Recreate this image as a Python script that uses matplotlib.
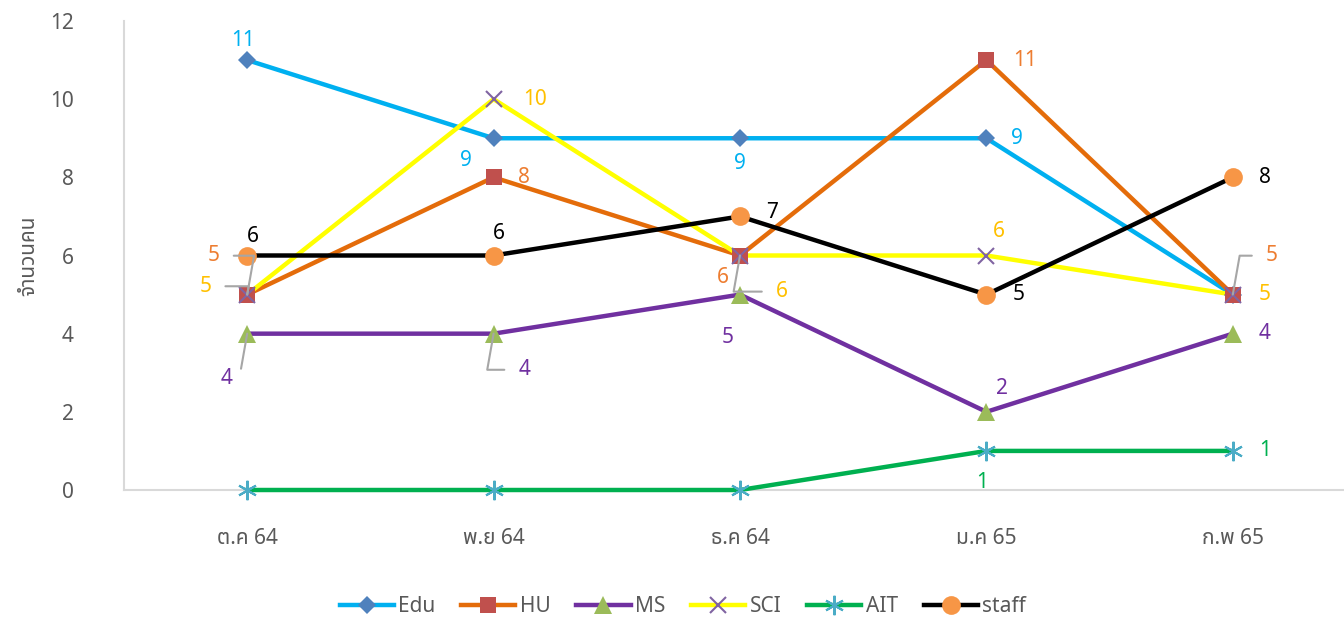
import matplotlib
matplotlib.use("Agg")
import matplotlib.pyplot as plt
from matplotlib.lines import Line2D

months = ['ต.ค 64', 'พ.ย 64', 'ธ.ค 64', 'ม.ค 65', 'ก.พ 65']
edu = [11, 9, 9, 9, 5]
hu = [5, 8, 6, 11, 5]
ms = [4, 4, 5, 2, 4]
sci = [5, 10, 6, 6, 5]
ait = [0, 0, 0, 1, 1]
staff = [6, 6, 7, 5, 8]

thai = ['Noto Sans Thai', 'Noto Sans Thai UI', 'Loma', 'Garuda', 'Norasi', 'Tlwg Typo',
        'Kinnari', 'Sawasdee', 'Waree', 'FreeSans', 'Noto Sans', 'DejaVu Sans']
plt.rcParams['font.family'] = thai

# name, values, line colour, marker, marker colour, marker size, label colour
series = [
    ('Edu', edu, '#00B0F0', 'D', '#4F81BD', 9.5, '#00B0F0'),
    ('HU', hu, '#E46C0A', 's', '#C0504D', 12, '#ED7D31'),
    ('MS', ms, '#7030A0', '^', '#9BBB59', 13, '#7030A0'),
    ('SCI', sci, '#FFFF00', 'x', '#8064A2', 11, '#FFC000'),
    ('AIT', ait, '#00B050', (6, 2, 0), '#4BACC6', 14, '#00B050'),
    ('staff', staff, '#000000', 'o', '#F79646', 13.5, '#000000'),
]

# label offsets in points (None = no label)
offsets = {
    'Edu': [(-3, 14), (-20, -16), (0, -18), (22, 0), None],
    'HU': [(-24, 28), (22, 0), (-12, -16), (28, 0), (28, 28)],
    'MS': [(-15, -32), (22, -26), (-9, -31), (11, 17), (23, 0)],
    'SCI': [(-30, 6), (30, 0), (30, -26), (9, 17), (23, 0)],
    'AIT': [None, None, None, (-3, -23), (23, 0)],
    'staff': [(4, 14), (4, 16), (23, 3), (23, 0), (23, 0)],
}
leaders = {('HU', 0), ('HU', 4), ('MS', 0), ('MS', 1), ('SCI', 0), ('SCI', 2)}

fig = plt.figure(figsize=(13.44, 6.25), dpi=100)
ax = fig.add_axes([124 / 1344, 135 / 625, 1232 / 1344, 469 / 625])
x = list(range(len(months)))

for name, vals, lc, mk, mc, ms_, tc in series:
    ax.plot(x, vals, color=lc, lw=3.2, zorder=2, clip_on=False)
    mew = 1.5 if mk in ('x', (6, 2, 0)) else 0
    ax.plot(x, vals, ls='none', marker=mk, ms=ms_, color=mc, mec=mc, mew=mew,
            zorder=3, clip_on=False)
    for i, v in enumerate(vals):
        off = offsets[name][i]
        if off is None:
            continue
        if (name, i) in leaders:
            ax.annotate(str(v), (i, v), xytext=off, textcoords='offset points',
                        ha='center', va='center', fontsize=15, color=tc, zorder=4,
                        arrowprops=dict(arrowstyle='-', color='#A6A6A6', lw=1.5,
                                        connectionstyle='angle,angleA=0,angleB=80,rad=0',
                                        shrinkA=8, shrinkB=0))
        else:
            ax.annotate(str(v), (i, v), xytext=off, textcoords='offset points',
                        ha='center', va='center', fontsize=15, color=tc, zorder=4)

ax.set_xlim(-0.5, 4.5)
ax.set_ylim(0, 12)
ax.set_yticks(range(0, 13, 2))
ax.set_xticks(x)
ax.set_xticklabels(months)
ax.tick_params(axis='both', length=0, labelsize=15, colors='#595959')
ax.tick_params(axis='x', pad=27)
ax.tick_params(axis='y', pad=36)
for s in ['top', 'right']:
    ax.spines[s].set_visible(False)
for s in ['left', 'bottom']:
    ax.spines[s].set_color('#D9D9D9')
    ax.spines[s].set_linewidth(1.5)
    ax.spines[s].set_zorder(1)
ax.set_ylabel('จำนวนคน', fontsize=15, color='#595959', labelpad=8)

handles = []
for name, vals, lc, mk, mc, ms_, tc in series:
    mew = 1.5 if mk in ('x', (6, 2, 0)) else 0
    handles.append(Line2D([], [], color=lc, lw=3.2, marker=mk, ms=ms_,
                          mfc=mc, mec=mc, mew=mew, label=name))
fig.legend(handles=handles, loc='center', bbox_to_anchor=(0.508, 18 / 625), ncol=6,
           frameon=False, fontsize=15, handlelength=2.6, columnspacing=1.25,
           handletextpad=0.2, labelcolor='#595959')

fig.savefig('out.png', dpi=100)
